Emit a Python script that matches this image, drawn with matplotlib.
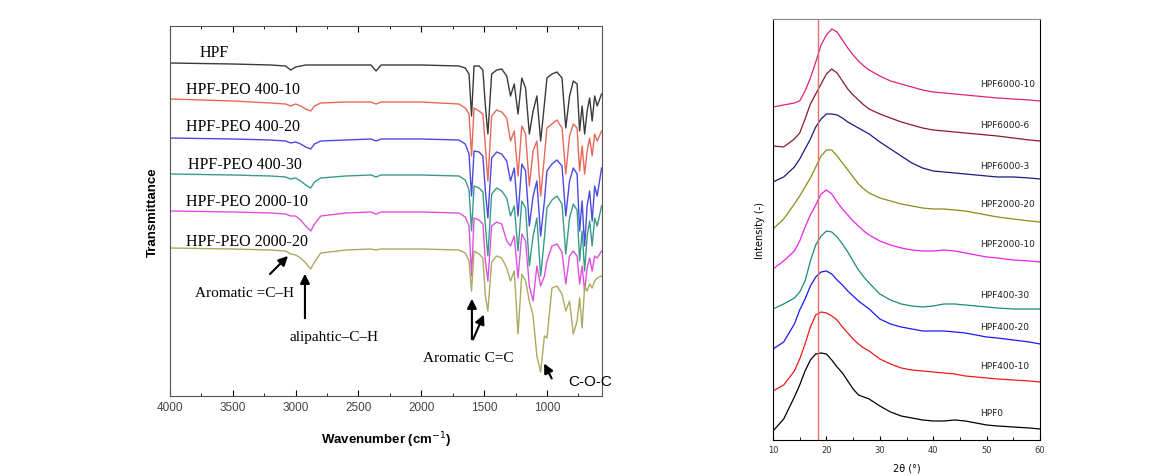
import numpy as np
import matplotlib.pyplot as plt
from matplotlib.ticker import MultipleLocator

# ---------------- FTIR (left) ----------------
wn = [4000, 3500, 3200, 3080, 3040, 3000, 2960, 2920, 2880, 2850,
      2800, 2600, 2400, 2360, 2320, 2000, 1700, 1650, 1620, 1600,
      1580, 1540, 1510, 1490, 1470, 1440, 1400, 1360, 1320, 1290,
      1260, 1230, 1200, 1170, 1140, 1110, 1080, 1050, 1020, 1000,
      960, 920, 880, 850, 820, 790, 760, 740, 720, 700,
      680, 660, 640, 620, 600, 565]

ir_hpf = [333, 332, 331, 330, 326, 329, 330, 331, 331, 331,
          331, 331, 331, 325, 331, 331, 330, 328, 322, 280,
          330, 330, 326, 290, 262, 322, 326, 327, 320, 300,
          312, 282, 318, 308, 262, 285, 300, 255, 292, 318,
          322, 324, 318, 268, 300, 315, 312, 265, 290, 262,
          285, 298, 275, 300, 290, 302]
ir_400_10 = [297, 295, 293, 292, 290, 292, 290, 287, 285, 290,
             293, 294, 294, 292, 294, 294, 292, 288, 282, 240,
             288, 285, 282, 250, 215, 280, 286, 284, 278, 255,
             265, 220, 270, 262, 210, 245, 255, 200, 240, 268,
             272, 276, 268, 222, 260, 272, 268, 225, 250, 222,
             245, 258, 240, 262, 255, 265]
ir_400_20 = [258, 257, 256, 255, 253, 254, 252, 249, 247, 252,
             255, 256, 257, 255, 257, 257, 256, 252, 242, 200,
             245, 244, 240, 205, 178, 238, 244, 242, 235, 215,
             228, 180, 232, 225, 170, 200, 215, 160, 195, 225,
             232, 236, 230, 180, 215, 228, 222, 165, 195, 150,
             190, 205, 175, 210, 200, 228]
ir_400_30 = [222, 221, 220, 219, 217, 218, 215, 211, 208, 214,
             218, 220, 221, 219, 221, 221, 220, 216, 206, 165,
             210, 208, 204, 170, 140, 202, 208, 205, 198, 180,
             190, 145, 195, 188, 130, 160, 178, 120, 158, 188,
             196, 200, 192, 142, 178, 192, 186, 135, 165, 125,
             160, 175, 150, 178, 170, 190]
ir_2000_10 = [185, 184, 183, 182, 180, 180, 176, 170, 165, 172,
              180, 183, 184, 182, 184, 184, 183, 179, 170, 120,
              178, 176, 172, 135, 115, 170, 174, 172, 155, 150,
              160, 118, 162, 155, 110, 95, 130, 110, 120, 135,
              150, 152, 144, 112, 140, 145, 140, 112, 130, 105,
              128, 138, 125, 140, 138, 145]
ir_2000_20 = [148, 147, 146, 145, 142, 141, 138, 133, 127, 134,
              143, 146, 147, 146, 147, 147, 146, 143, 135, 105,
              145, 142, 138, 100, 85, 134, 140, 138, 128, 115,
              125, 62, 122, 115, 95, 80, 40, 24, 60, 58,
              108, 110, 102, 85, 95, 62, 75, 98, 68, 110,
              105, 112, 108, 115, 118, 120]

ir_names = ["HPF", "HPF-PEO 400-10", "HPF-PEO 400-20", "HPF-PEO 400-30",
            "HPF-PEO 2000-10", "HPF-PEO 2000-20"]
ir_colors = ["#3a3a3a", "#e8685a", "#4a4ae0", "#3a9a8a", "#e050e0", "#aaaa60"]
ir_label_x = [3761, 3873, 3873, 3857, 3873, 3873]
ir_label_y = [344, 307, 270, 232, 195, 155]

# ---------------- XRD (right) ----------------
tt = [10, 12, 14, 15, 16, 17, 18, 19, 20, 21, 22, 23, 24, 25, 26, 27,
      28, 30, 32, 34, 36, 38, 40, 42, 44, 46, 48, 50, 52, 55, 58, 60]

xrd_6000_10 = [333, 335, 337, 339, 349, 362, 378, 395, 405, 411, 408, 400, 392, 385, 379, 374,
               370, 364, 359, 356, 353, 350, 348, 347, 346, 345, 344, 343, 342, 341, 340, 339]
xrd_6000_6 = [294, 293, 301, 307, 321, 336, 346, 356, 366, 371, 367, 359, 351, 345, 340, 335,
              331, 326, 322, 318, 315, 312, 310, 309, 308, 307, 306, 305, 304, 302, 300, 299]
xrd_6000_3 = [258, 263, 273, 281, 291, 301, 313, 321, 326, 326, 325, 322, 318, 315, 312, 309,
              306, 298, 291, 284, 277, 272, 269, 268, 267, 266, 265, 264, 263, 263, 262, 261]
xrd_2000_20 = [211, 221, 236, 244, 253, 262, 273, 284, 290, 290, 284, 277, 270, 263, 256, 251,
               247, 242, 239, 236, 234, 232, 231, 231, 230, 229, 227, 225, 223, 221, 219, 218]
xrd_2000_10 = [171, 179, 189, 199, 213, 225, 235, 246, 250, 246, 238, 231, 225, 219, 214, 209,
               205, 199, 195, 192, 190, 189, 189, 190, 189, 187, 185, 183, 182, 180, 179, 178]
xrd_400_30 = [131, 136, 142, 148, 159, 179, 195, 204, 209, 208, 203, 196, 188, 179, 170, 163,
              157, 146, 140, 136, 134, 133, 134, 136, 136, 135, 134, 133, 132, 131, 131, 131]
xrd_400_20 = [91, 98, 116, 130, 141, 154, 163, 168, 169, 166, 160, 155, 149, 144, 139, 135,
              131, 121, 116, 113, 111, 109, 109, 109, 108, 107, 105, 103, 102, 100, 98, 96]
xrd_400_10 = [49, 55, 69, 81, 96, 113, 125, 128, 127, 124, 120, 113, 107, 101, 96, 92,
              89, 81, 76, 72, 70, 69, 68, 67, 66, 64, 63, 62, 61, 60, 59, 58]
xrd_hpf0 = [9, 21, 43, 55, 69, 80, 86, 87, 86, 80, 73, 67, 59, 51, 45, 43,
            41, 34, 28, 24, 22, 20, 19, 19, 20, 19, 17, 15, 14, 13, 12, 11]

xrd_names = ["HPF6000-10", "HPF6000-6", "HPF6000-3", "HPF2000-20", "HPF2000-10",
             "HPF400-30", "HPF400-20", "HPF400-10", "HPF0"]
xrd_colors = ["#e0207a", "#8b1a2a", "#1a1a80", "#8b8b1a", "#ee22ee",
              "#1a8b7a", "#1a1aee", "#ee1a1a", "#000000"]
xrd_label_y = [356, 315, 274, 236, 196, 145, 113, 74, 27]
ref_line = 18.5

fig = plt.figure(figsize=(11.7, 4.77), dpi=100)

# left panel
ax1 = fig.add_axes([0.1453, 0.1677, 0.3692, 0.7757])
ir_data = [ir_hpf, ir_400_10, ir_400_20, ir_400_30, ir_2000_10, ir_2000_20]
for vals, c in zip(ir_data, ir_colors):
    ax1.plot(wn, vals, color=c, lw=1.0)
for name, lx, ly in zip(ir_names, ir_label_x, ir_label_y):
    ax1.text(lx, ly, name, family="Liberation Serif", fontsize=11.5, va="center", ha="left")

ax1.set_xlim(4000, 562)
ax1.set_ylim(0, 370)
ax1.set_yticks([])
ax1.xaxis.set_major_locator(MultipleLocator(500))
ax1.xaxis.set_minor_locator(MultipleLocator(250))
ax1.tick_params(axis="x", which="both", direction="in", top=True, labelsize=8.5,
                labelcolor="#444444", length=4)
ax1.tick_params(axis="x", which="minor", length=2.5)
for lab in ax1.get_xticklabels():
    lab.set_family("Liberation Sans")
for s in ax1.spines.values():
    s.set_color("#555555")
ax1.set_xlabel("Wavenumber (cm$^{-1}$)", family="Liberation Sans", fontweight="bold",
               fontsize=9.5, labelpad=12)
ax1.set_ylabel("Transmittance", family="Liberation Sans", fontweight="bold",
               fontsize=9.5, labelpad=8)

arrow = dict(arrowstyle="-|>", color="k", lw=1.5, mutation_scale=14)
ax1.annotate("", xy=(3045, 142), xytext=(3220, 120), arrowprops=arrow)
ax1.annotate("", xy=(2926, 125), xytext=(2926, 75), arrowprops=arrow)
ax1.annotate("", xy=(1597, 100), xytext=(1597, 54), arrowprops=arrow)
ax1.annotate("", xy=(1493, 84), xytext=(1597, 54), arrowprops=arrow)
ax1.annotate("", xy=(1032, 35), xytext=(952, 15), arrowprops=arrow)
ax1.text(3801, 104, "Aromatic =C\u2013H", family="Liberation Serif", fontsize=11, va="center")
ax1.text(3045, 60, "alipahtic\u2013C\u2013H", family="Liberation Serif", fontsize=11, va="center")
ax1.text(1987, 39, "Aromatic C=C", family="Liberation Serif", fontsize=11, va="center")
ax1.text(833, 15, "C-O-C", family="Liberation Sans", fontsize=11, va="center")

# right panel
ax2 = fig.add_axes([0.6607, 0.0755, 0.2282, 0.8826])
xrd_data = [xrd_6000_10, xrd_6000_6, xrd_6000_3, xrd_2000_20, xrd_2000_10,
            xrd_400_30, xrd_400_20, xrd_400_10, xrd_hpf0]
for vals, c in zip(xrd_data, xrd_colors):
    ax2.plot(tt, vals, color=c, lw=0.9)
for name, ly in zip(xrd_names, xrd_label_y):
    ax2.text(48.8, ly, name, fontsize=6.5, va="center", ha="left", color="#222222")
ax2.axvline(ref_line, color="#e07070", lw=1.0)

ax2.set_xlim(10, 60)
ax2.set_ylim(0, 421)
ax2.set_yticks([])
ax2.xaxis.set_major_locator(MultipleLocator(10))
ax2.xaxis.set_minor_locator(MultipleLocator(5))
ax2.tick_params(axis="x", which="both", direction="in", labelsize=6, labelcolor="#333333",
                length=3)
ax2.tick_params(axis="x", which="minor", length=2)
ax2.spines["top"].set_color("#888888")
ax2.set_xlabel("2\u03b8 (\u00b0)", fontsize=7, labelpad=6)
ax2.set_ylabel("Intensity (-)", fontsize=7, labelpad=6)

fig.savefig("out.png", dpi=100)
